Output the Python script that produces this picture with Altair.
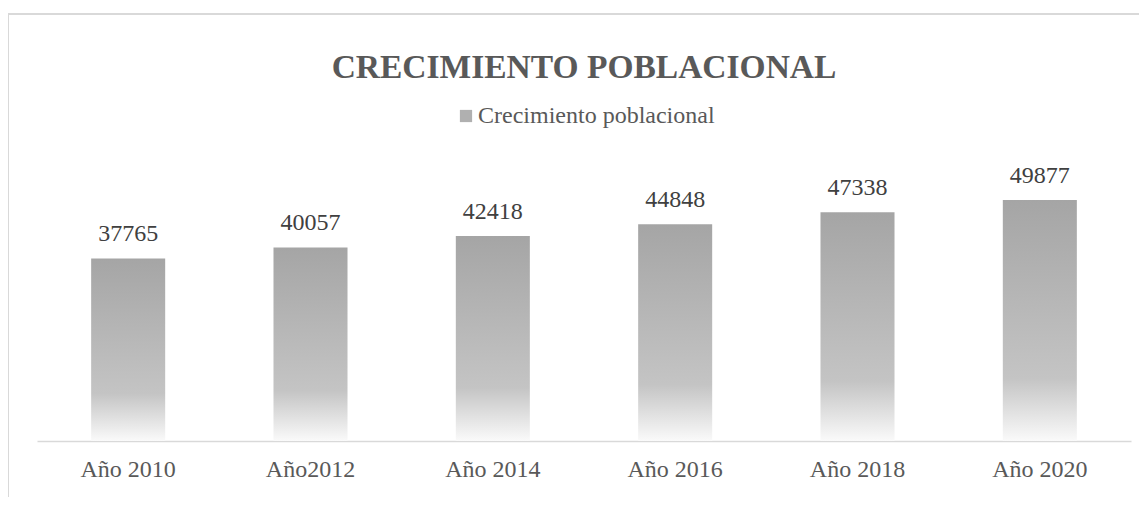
import altair as alt
import pandas as pd

categorias = ["Año 2010", "Año2012", "Año 2014", "Año 2016", "Año 2018", "Año 2020"]
valores = [37765, 40057, 42418, 44848, 47338, 49877]
serie = "Crecimiento poblacional"
titulo = "CRECIMIENTO POBLACIONAL"

df = pd.DataFrame({"cat": categorias, "val": valores})
leg_df = pd.DataFrame({"serie": [serie]})

FONT = "Liberation Serif"

grad = alt.Gradient(
    gradient="linear",
    x1=0, x2=0, y1=0, y2=1,
    stops=[
        alt.GradientStop(offset=0, color="#a5a5a5"),
        alt.GradientStop(offset=0.74, color="#c4c4c4"),
        alt.GradientStop(offset=1, color="#fafafa"),
    ],
)

x_enc = alt.X(
    "cat:N",
    sort=categorias,
    title=None,
    scale=alt.Scale(paddingInner=0.594, paddingOuter=0.297),
    axis=alt.Axis(
        labelAngle=0,
        labelFont=FONT,
        labelFontSize=24,
        labelColor="#595959",
        labelPadding=16,
        ticks=False,
        domainColor="#d9d9d9",
        domainWidth=1.5,
        grid=False,
    ),
)
y_enc = alt.Y("val:Q", scale=alt.Scale(domain=[0, 60000]), axis=None)

base = alt.Chart(df)

bars = base.mark_bar(color=grad).encode(x=x_enc, y=y_enc)

labels = base.mark_text(
    font=FONT, fontSize=24, color="#404040", baseline="alphabetic", dy=-17
).encode(x=x_enc, y=y_enc, text=alt.Text("val:Q", format="d"))

legend_layer = alt.Chart(leg_df).mark_point(
    opacity=0, filled=True, shape="square"
).encode(
    color=alt.Color(
        "serie:N",
        scale=alt.Scale(range=["#b0b0b0"]),
        legend=alt.Legend(
            title=None,
            orient="none",
            legendX=417,
            legendY=-47,
            symbolType="square",
            symbolSize=150,
            symbolOpacity=1,
            symbolStrokeWidth=0,
            labelFont=FONT,
            labelFontSize=24,
            labelColor="#595959",
            labelOffset=0,
            labelLimit=500,
            padding=0,
        ),
    )
)

border = alt.Chart(pd.DataFrame({"k": [0]})).mark_rule(
    color="#d9d9d9", strokeWidth=2
)
border_top = border.encode(x=alt.value(-29), x2=alt.value(1110), y=alt.value(-137))
border_left = border.encode(x=alt.value(-29), y=alt.value(-137), y2=alt.value(360))

chart = (
    alt.layer(border_top, border_left, bars, labels, legend_layer)
    .properties(
        width=1094,
        height=290,
        padding={"left": 29, "top": 143, "right": 8, "bottom": 56},
        autosize=alt.AutoSizeParams(type="none"),
        title=alt.TitleParams(
            titulo,
            font=FONT,
            fontSize=33.5,
            fontWeight="bold",
            color="#595959",
            anchor="middle",
            baseline="alphabetic",
            offset=-98,
        ),
    )
    .configure(background="white")
    .configure_view(strokeWidth=0, stroke=None)
)

chart.save("out.html", embed_options={"renderer": "svg", "actions": False})
